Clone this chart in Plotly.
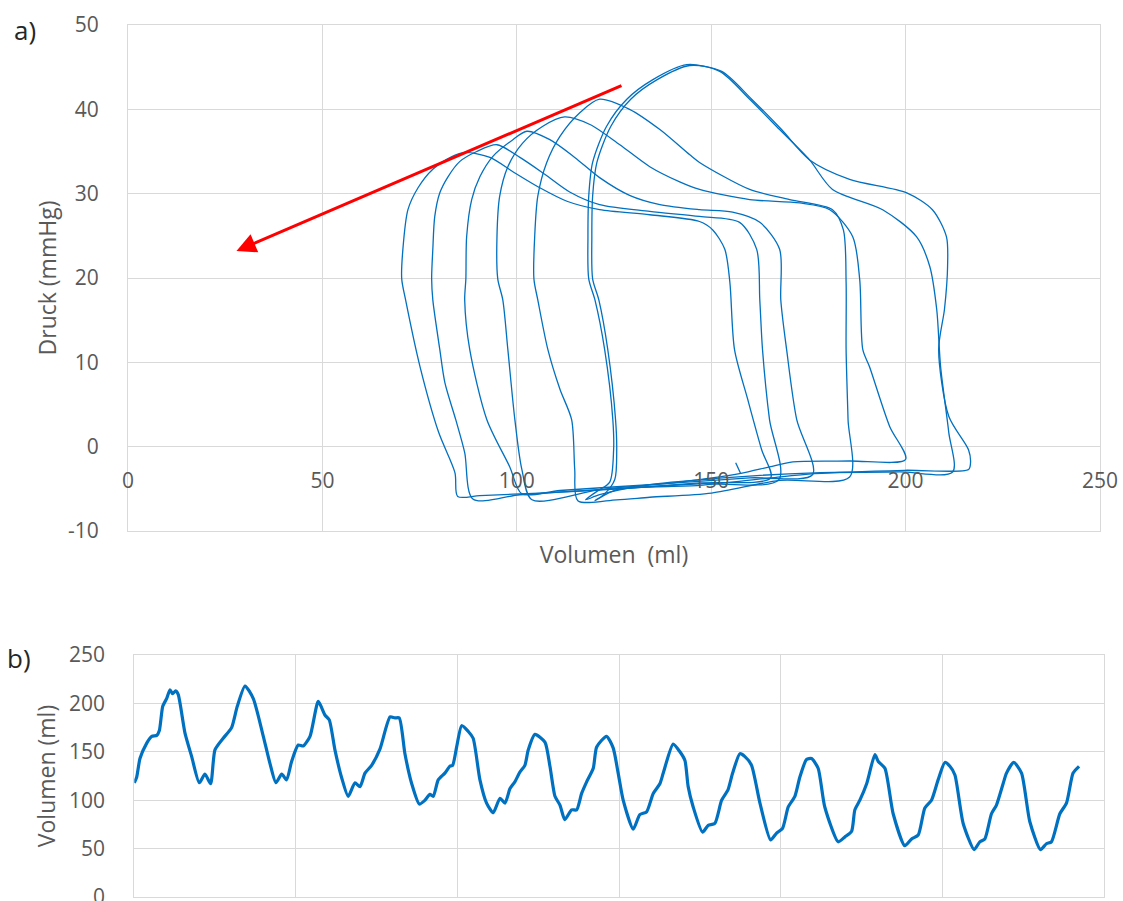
import plotly.graph_objects as go

# ---------------- data: panel a) pressure-volume loops ----------------
L1_V = [165.3, 147.0, 126.5, 105.9, 90.5, 84.8, 84.1, 79.9, 75.1, 71.4, 70.4, 70.7, 72.0, 74.6, 78.4, 83.3, 86.6, 93.1, 99.0, 105.9, 112.9, 121.3, 134.2, 147.0, 150.4, 153.5, 154.8, 156.0, 159.4, 163.0, 165.3]
L1_P = [-3.7, -4.3, -5.0, -5.5, -5.8, -5.9, -3.1, 1.7, 9.5, 17.4, 19.9, 23.4, 28.1, 30.7, 32.9, 34.4, 34.9, 34.3, 32.6, 30.7, 29.1, 28.1, 27.5, 26.7, 25.7, 23.4, 19.5, 11.5, 5.6, -0.4, -3.7]

L2_V = [167.4, 147.0, 121.3, 100.8, 88.7, 86.6, 84.3, 81.5, 80.2, 78.4, 78.1, 78.4, 78.9, 80.2, 82.3, 85.3, 89.7, 94.9, 100.8, 107.2, 113.6, 121.3, 134.2, 147.0, 157.3, 161.7, 162.5, 163.2, 165.0, 167.4]
L2_P = [-3.9, -4.4, -5.1, -5.7, -6.2, -0.7, 3.2, 7.6, 11.5, 17.4, 19.9, 23.4, 27.3, 30.1, 32.0, 33.8, 35.0, 35.8, 34.3, 32.3, 30.2, 28.7, 27.9, 27.3, 26.6, 23.4, 17.4, 11.5, 3.2, -3.9]

L3_V = [176.1, 159.9, 134.2, 111.1, 101.3, 98.2, 92.3, 87.9, 86.6, 86.9, 87.1, 88.4, 90.5, 93.8, 99.0, 102.6, 108.5, 114.9, 121.3, 129.0, 136.8, 147.0, 155.5, 162.5, 167.6, 167.9, 169.4, 172.0, 176.1]
L3_P = [-3.3, -3.7, -4.5, -5.2, -5.6, -2.4, 3.2, 11.5, 17.4, 19.9, 24.9, 29.3, 32.0, 34.4, 36.4, 37.4, 36.4, 34.3, 31.9, 29.8, 28.7, 28.1, 27.8, 26.6, 23.4, 17.4, 11.5, 3.2, -3.3]

L4_V = [200.0, 185.6, 171.0, 165.0, 157.3, 141.9, 121.3, 103.9, 101.3, 99.5, 97.7, 96.4, 95.1, 94.9, 95.6, 97.7, 101.5, 106.7, 112.3, 118.8, 126.5, 134.2, 141.9, 147.0, 159.9, 172.8, 180.5, 186.4, 188.2, 189.0, 190.7, 195.9, 200.0]
L4_P = [-1.5, -1.7, -1.8, -2.4, -3.2, -4.2, -5.1, -6.3, -2.7, 3.2, 11.5, 17.4, 19.9, 24.9, 29.7, 33.2, 36.0, 38.0, 39.1, 38.2, 35.8, 33.2, 31.4, 30.5, 29.3, 28.9, 28.1, 24.9, 19.8, 11.5, 9.5, 2.4, -1.5]

L5_V = [185.6, 167.6, 150.1, 134.2, 125.7, 115.7, 114.9, 114.1, 111.1, 108.0, 105.4, 104.4, 104.6, 105.4, 107.7, 111.1, 116.2, 121.3, 129.0, 136.8, 144.5, 147.0, 159.9, 170.2, 181.2, 184.0, 184.7, 184.7, 185.2, 185.6]
L5_P = [-3.6, -4.0, -5.5, -6.0, -6.3, -6.4, -2.7, 3.2, 6.8, 11.5, 17.4, 19.9, 24.9, 29.7, 33.7, 36.8, 39.6, 41.2, 40.0, 37.6, 34.6, 33.7, 30.5, 29.3, 28.1, 25.7, 19.5, 11.5, 3.2, -3.6]

L6_V = [212.1, 198.5, 176.6, 156.0, 134.2, 121.3, 117.7, 120.6, 123.9, 124.9, 124.7, 122.6, 120.1, 118.5, 118.3, 118.5, 119.5, 123.1, 128.3, 134.9, 143.7, 152.2, 159.9, 167.6, 175.3, 181.2, 194.1, 202.8, 206.2, 208.0, 209.0, 211.1, 212.1]
L6_P = [-3.0, -3.0, -3.1, -3.6, -4.5, -5.7, -6.3, -5.3, -4.2, -0.4, 3.2, 11.5, 17.4, 19.9, 24.9, 29.7, 33.7, 38.0, 41.2, 43.5, 45.3, 44.5, 41.2, 37.6, 34.0, 30.5, 28.1, 24.9, 21.4, 16.3, 9.5, 1.7, -3.0]

L7_V = [216.2, 199.7, 176.6, 165.3, 147.0, 125.7, 120.1, 122.6, 125.2, 125.7, 125.4, 123.4, 121.1, 119.5, 119.3, 119.5, 120.6, 124.2, 129.3, 136.0, 144.5, 152.7, 160.4, 168.1, 175.3, 185.6, 200.3, 206.9, 210.5, 210.8, 210.0, 208.5, 211.1, 216.2, 216.7, 216.2]
L7_P = [-2.7, -2.8, -3.2, -3.7, -4.6, -5.1, -6.4, -5.6, -3.9, -0.4, 3.2, 11.5, 17.4, 19.9, 24.9, 29.7, 33.7, 38.0, 41.2, 43.5, 45.2, 44.5, 41.2, 37.6, 34.0, 31.7, 30.1, 28.1, 24.9, 21.4, 16.3, 11.5, 3.6, -0.4, -1.9, -2.7]

TICK_V = [156.3, 157.6]
TICK_P = [-1.9, -3.2]

LOOPS = [(L1_V, L1_P), (L2_V, L2_P), (L3_V, L3_P), (L4_V, L4_P),
         (L5_V, L5_P), (L6_V, L6_P), (L7_V, L7_P), (TICK_V, TICK_P)]

A_X_TICKS = [0, 50, 100, 150, 200, 250]
A_Y_TICKS = [-10, 0, 10, 20, 30, 40, 50]
A_Y_LABELS = ["-10", "0", "10", "20", "30", "40", "50"]

# red arrow (tail -> head), data coordinates
ARROW_TAIL = (127.3, 42.9)
ARROW_HEAD = (27.9, 23.2)

# ---------------- data: panel b) volume over time ----------------
B_T = [0.0, 0.15, 0.35, 0.77, 1.08, 1.39, 1.55, 1.76, 2.0, 2.21,
       2.37, 2.56, 2.72, 3.14, 3.55, 4.02, 4.37, 4.72, 4.99, 5.5,
       6.02, 6.37, 6.85, 7.36, 7.98, 8.39, 8.76, 9.12, 9.42, 9.73,
       10.14, 10.45, 10.87, 11.38, 11.79, 12.06, 12.41, 12.83, 13.23, 13.65,
       13.96, 14.27, 14.68, 15.2, 15.82, 16.12, 16.39, 16.74, 17.16, 17.63,
       17.98, 18.29, 18.49, 18.8, 19.21, 19.52, 19.69, 19.94, 20.25, 20.66,
       20.96, 21.38, 21.79, 22.2, 22.62, 22.93, 23.24, 23.54, 23.85, 24.16,
       24.37, 24.78, 25.4, 25.71, 26.02, 26.33, 26.63, 27.05, 27.36, 27.67,
       27.98, 28.39, 28.6, 29.21, 29.62, 29.93, 30.24, 30.86, 31.27, 31.69,
       32.1, 32.51, 32.72, 33.33, 33.75, 34.06, 34.26, 34.57, 35.15, 35.5,
       35.91, 36.33, 36.73, 37.01, 37.46, 37.77, 38.18, 38.7, 39.36, 39.73,
       40.1, 40.45, 40.86, 41.17, 41.58, 41.89, 42.3, 42.71, 43.54, 43.95,
       44.37, 44.57, 44.88, 45.3, 45.81, 46.02, 46.43, 46.94, 47.66, 48.08,
       48.49, 48.9, 49.31, 49.72, 50.14, 50.45, 50.76, 51.27, 51.95, 52.3,
       52.61, 53.02, 53.33, 53.74, 53.95, 54.4, 54.88, 55.39, 56.05, 56.42,
       56.73, 57.25, 57.66, 58.07, 58.44]
B_VOL = [118, 124, 143, 159, 166, 167, 172, 197, 205, 214,
         210, 213, 209, 169, 145, 118, 127, 117, 152, 164,
         175, 197, 218, 205, 166, 138, 118, 127, 121, 140,
         157, 156, 166, 202, 188, 183, 152, 123, 104, 118,
         114, 128, 136, 153, 186, 185, 185, 148, 117, 96,
         100, 106, 104, 121, 128, 135, 136, 155, 177, 171,
         164, 121, 97, 87, 102, 97, 112, 119, 129, 136,
         152, 168, 160, 135, 104, 95, 80, 90, 90, 107,
         119, 133, 155, 166, 154, 128, 100, 70, 85, 88,
         107, 117, 128, 158, 150, 141, 114, 93, 67, 74,
         76, 100, 111, 128, 148, 145, 136, 97, 59, 66,
         71, 93, 104, 124, 142, 143, 133, 93, 57, 62,
         68, 90, 100, 117, 147, 140, 133, 86, 53, 60,
         64, 92, 100, 121, 139, 135, 126, 76, 49, 57,
         60, 86, 95, 117, 128, 139, 128, 78, 49, 55,
         57, 86, 97, 128, 135]
B_Y_TICKS = [0, 50, 100, 150, 200, 250]

# ---------------- styling ----------------
OFF = 0                      # page margin is removed below, figure fills the window exactly
W, H = 1123, 901
BLUE = "#0070C0"
GRID = "#D9D9D9"
TXT = "#595959"
FONT = "Open Sans"

fig = go.Figure()

for v, p in LOOPS:
    fig.add_trace(go.Scatter(x=v, y=p, mode="lines", xaxis="x", yaxis="y",
                             line=dict(color=BLUE, width=1.3, shape="spline", smoothing=0.8),
                             showlegend=False, hoverinfo="skip"))

# carrier trace for the tick-label axis of panel a) (drawn at P = 0)
fig.add_trace(go.Scatter(x=A_X_TICKS, y=[None] * len(A_X_TICKS), xaxis="x3", yaxis="y",
                         mode="lines", showlegend=False, hoverinfo="skip"))

fig.add_trace(go.Scatter(x=B_T, y=B_VOL, mode="lines", xaxis="x2", yaxis="y2",
                         line=dict(color=BLUE, width=3.2, shape="spline", smoothing=0.6),
                         showlegend=False, hoverinfo="skip"))

def px_x(px):
    return (px - OFF) / W

def px_y(py):
    return (H - (py - OFF)) / H

top_x_dom = [px_x(128), px_x(1100)]
top_y_dom = [px_y(531), px_y(25)]
bot_x_dom = [px_x(134.3), px_x(1104.3)]
bot_y_dom = [px_y(897), px_y(655)]

tickfont = dict(family=FONT, size=21, color=TXT)
titlefont = dict(family=FONT, size=23, color=TXT)

fig.update_layout(
    template="none",
    width=W, height=H,
    margin=dict(l=0, r=0, t=0, b=0, autoexpand=False),
    paper_bgcolor="white", plot_bgcolor="white",
    showlegend=False,
    xaxis=dict(domain=top_x_dom, anchor="y", range=[0, 250], tickvals=A_X_TICKS,
               showgrid=True, gridcolor=GRID, gridwidth=1, zeroline=False, automargin=False,
               showline=True, linecolor=GRID, mirror=True, showticklabels=False, ticks="",
               title=dict(text="Volumen \u00a0(ml)", font=titlefont, standoff=15)),
    xaxis3=dict(overlaying="x", anchor="free", position=px_y(447), range=[0, 250],
                tickvals=A_X_TICKS, showgrid=False, zeroline=False, showline=False,
                automargin=False, ticks="", tickfont=tickfont, ticklabelstandoff=19,
                ticklabeloverflow="allow"),
    yaxis=dict(domain=top_y_dom, anchor="x", range=[-10, 50], tickvals=A_Y_TICKS,
               ticktext=A_Y_LABELS,
               showgrid=True, gridcolor=GRID, gridwidth=1, zeroline=False, automargin=False,
               showline=True, linecolor=GRID, mirror=True, ticks="",
               tickfont=tickfont, ticklabelstandoff=24, ticklabeloverflow="allow",
               title=dict(text="Druck (mmHg)", font=titlefont, standoff=4)),
    xaxis2=dict(domain=bot_x_dom, anchor="y2", range=[0, 60], dtick=10, tick0=0,
                showgrid=True, gridcolor=GRID, gridwidth=1, zeroline=False, automargin=False,
                showline=True, linecolor=GRID, mirror=True, showticklabels=False, ticks=""),
    yaxis2=dict(domain=bot_y_dom, anchor="x2", range=[0, 250], tickvals=B_Y_TICKS,
                showgrid=True, gridcolor=GRID, gridwidth=1, zeroline=False, automargin=False,
                showline=True, linecolor=GRID, mirror=True, ticks="",
                tickfont=tickfont, ticklabelstandoff=24, ticklabeloverflow="allow",
                title=dict(text="Volumen (ml)", font=titlefont, standoff=7)),
    annotations=[
        dict(x=ARROW_HEAD[0], y=ARROW_HEAD[1], xref="x", yref="y",
             ax=ARROW_TAIL[0], ay=ARROW_TAIL[1], axref="x", ayref="y",
             text="", showarrow=True, arrowhead=2, arrowsize=1.3, arrowwidth=3,
             arrowcolor="#FF0000"),
        dict(x=px_x(25), y=px_y(30), xref="paper", yref="paper", text="a)",
             showarrow=False, xanchor="center", yanchor="middle",
             font=dict(family=FONT, size=26, color="#262626")),
        dict(x=px_x(19), y=px_y(658), xref="paper", yref="paper", text="b)",
             showarrow=False, xanchor="center", yanchor="middle",
             font=dict(family=FONT, size=26, color="#262626")),
    ],
)

# remove the default page margin so the 1123x901 figure fills the window exactly
fig.write_html("out.html",
               config={"displayModeBar": False, "staticPlot": True},
               post_script="document.body.style.margin='0';"
                           "document.documentElement.style.overflow='hidden';")
